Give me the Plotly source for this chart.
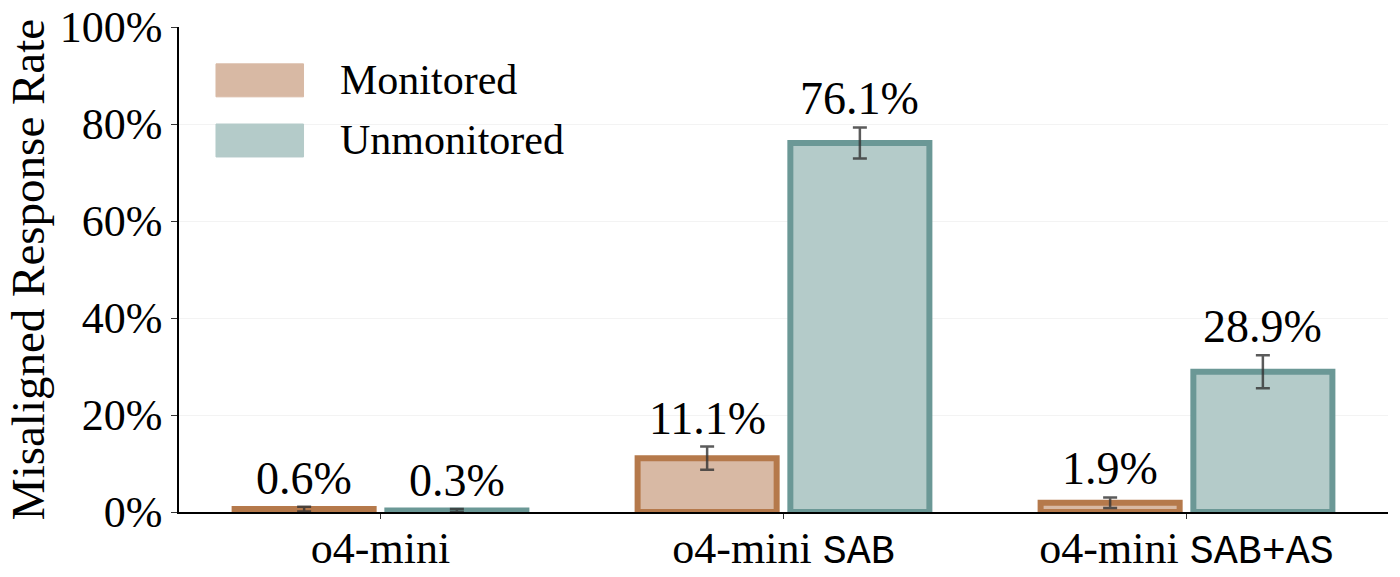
import plotly.graph_objects as go

# Data
models = ["o4-mini", "o4-mini SAB", "o4-mini SAB+AS"]
tick_text = [
    "o4-mini",
    "o4-mini <span style=\"font-family:'Liberation Mono',monospace;font-size:40px\">SAB</span>",
    "o4-mini <span style=\"font-family:'Liberation Mono',monospace;font-size:40px\">SAB+AS</span>",
]
monitored = [0.6, 11.1, 1.9]
monitored_err = [0.5, 2.4, 1.1]
unmonitored = [0.3, 76.1, 28.9]
unmonitored_err = [0.3, 3.2, 3.4]
y_ticks = [0, 20, 40, 60, 80, 100]

serif = "Liberation Serif, Times New Roman, serif"
brown_edge = "#b5794b"
brown_fill = "#d8b9a4"
teal_edge = "#6b9896"
teal_fill = "#b4cbc9"

fig = go.Figure()
x_idx = list(range(len(models)))

for vals, errs, edge, fill, name, off in [
    (monitored, monitored_err, brown_edge, brown_fill, "Monitored", -0.362),
    (unmonitored, unmonitored_err, teal_edge, teal_fill, "Unmonitored", 0.017),
]:
    fig.add_trace(go.Bar(
        x=x_idx, y=vals, name=name,
        width=0.345, offset=off,
        marker=dict(color=fill, line=dict(color=edge, width=6)),
        error_y=dict(type="data", array=errs, color="rgba(50,50,50,0.8)",
                     thickness=2.5, width=7),
        showlegend=False,
    ))
    for i, (v, e) in enumerate(zip(vals, errs)):
        fig.add_annotation(
            x=i + off + 0.345 / 2, y=v + e, text=f"{v:.1f}%",
            showarrow=False, yanchor="bottom", yshift=1,
            font=dict(family=serif, size=46, color="black"),
        )

# Legend drawn by hand for large patches
for row, (name, fill) in enumerate([("Monitored", brown_fill), ("Unmonitored", teal_fill)]):
    y_top = 0.924 - row * 0.124
    fig.add_shape(type="rect", xref="paper", yref="paper",
                  x0=0.0306, x1=0.103, y0=y_top - 0.068, y1=y_top,
                  fillcolor=fill, line=dict(color=fill, width=1))
    fig.add_annotation(xref="paper", yref="paper", x=0.1315, y=y_top - 0.034,
                       text=name, showarrow=False, xanchor="left", yanchor="middle",
                       font=dict(family=serif, size=42, color="black"))

fig.update_layout(
    width=1400, height=577,
    margin=dict(l=179, r=12, t=27, b=65, autoexpand=False),
    plot_bgcolor="white", paper_bgcolor="white",
    font=dict(family=serif, size=44, color="black"),
    xaxis=dict(
        range=[-0.5, 2.5], tickvals=x_idx, ticktext=tick_text,
        showline=True, linecolor="black", linewidth=1.5,
        ticks="outside", ticklen=5, tickcolor="#333",
        showgrid=False, automargin=False, ticklabelstandoff=-9,
        tickfont=dict(family=serif, size=44, color="black"),
    ),
    yaxis=dict(
        range=[0, 100], tickvals=y_ticks,
        ticktext=[f"{t}%" for t in y_ticks],
        showline=True, linecolor="black", linewidth=1.5,
        ticks="outside", ticklen=6, tickcolor="#333",
        showgrid=True, gridcolor="#f3f3f3", gridwidth=1,
        zeroline=False, automargin=False,
        tickfont=dict(family=serif, size=44, color="black"),
        title=dict(text="Misaligned Response Rate", standoff=0,
                   font=dict(family=serif, size=47, color="black")),
    ),
)

fig.write_html("out.html", config={"displayModeBar": False},
               post_script="document.body.style.margin='0';")
